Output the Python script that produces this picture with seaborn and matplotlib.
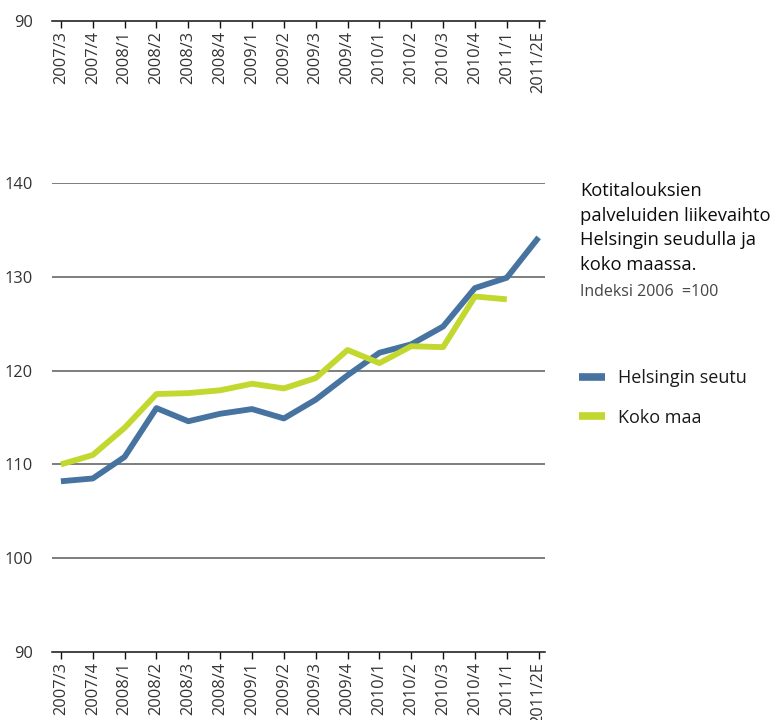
import numpy as np
import pandas as pd
import matplotlib
matplotlib.use("Agg")
import matplotlib.pyplot as plt
import seaborn as sns
from matplotlib.lines import Line2D

periods = ["2007/3", "2007/4", "2008/1", "2008/2", "2008/3", "2008/4",
           "2009/1", "2009/2", "2009/3", "2009/4", "2010/1", "2010/2",
           "2010/3", "2010/4", "2011/1", "2011/2E"]
helsinki = [108.2, 108.5, 110.8, 116.0, 114.6, 115.4, 115.9, 114.9,
            116.9, 119.5, 121.9, 122.8, 124.7, 128.8, 129.9, 134.2]
koko_maa = [110.0, 111.0, 113.9, 117.5, 117.6, 117.9, 118.6, 118.1,
            119.2, 122.2, 120.8, 122.6, 122.5, 127.9, 127.6, np.nan]
series_names = ["Helsingin seutu", "Koko maa"]
y_ticks = [90, 100, 110, 120, 130, 140]

title_lines = "Kotitalouksien\npalveluiden liikevaihto\nHelsingin seudulla ja\nkoko maassa."
subtitle = "Indeksi 2006  =100"

colors = {"Helsingin seutu": "#46739f", "Koko maa": "#c3d82f"}

df = pd.DataFrame({
    "x": list(range(len(periods))) * 2,
    "value": helsinki + koko_maa,
    "series": [series_names[0]] * len(periods) + [series_names[1]] * len(periods),
}).dropna()

sns.set_theme(style="white")
plt.rcParams["font.family"] = ["Open Sans", "DejaVu Sans"]

fig = plt.figure(figsize=(7.71, 7.2), dpi=100)
left, width = 52 / 771, 493 / 771
ax = fig.add_axes([left, 68 / 720, width, 469 / 720])

sns.lineplot(data=df, x="x", y="value", hue="series", palette=colors,
             linewidth=4.2, legend=False, ax=ax, solid_capstyle="butt")

xlim = (-0.28, 15.2)
ax.set_xlim(*xlim)
ax.set_ylim(90, 140)
ax.set_yticks(y_ticks)
ax.set_yticklabels([str(v) for v in y_ticks])
ax.set_xticks(range(len(periods)))
ax.set_xticklabels(periods, rotation=90, va="top")
for v in y_ticks[1:]:
    ax.axhline(v, color="#5a5a5a", lw=1.1, zorder=0)
for s in ["top", "right", "left"]:
    ax.spines[s].set_visible(False)
ax.spines["bottom"].set_color("#111111")
ax.spines["bottom"].set_linewidth(1.1)
ax.tick_params(axis="x", direction="out", length=5, width=1, color="#111111",
               pad=2, labelsize=11.8, labelcolor="#333333", bottom=True)
ax.tick_params(axis="y", length=0, pad=14, labelsize=11.8, labelcolor="#333333")
ax.set_xlabel("")
ax.set_ylabel("")
ax.grid(False)

# duplicate period axis at the top of the page
ax_top = fig.add_axes([left, 1 - 21 / 720, width, 0.0005])
ax_top.set_xlim(*xlim)
ax_top.set_ylim(90, 100)
ax_top.set_yticks([90])
ax_top.set_yticklabels(["90"])
ax_top.set_xticks(range(len(periods)))
ax_top.set_xticklabels(periods, rotation=90, va="top")
for s in ["top", "right", "left"]:
    ax_top.spines[s].set_visible(False)
ax_top.spines["bottom"].set_color("#111111")
ax_top.spines["bottom"].set_linewidth(1.1)
ax_top.tick_params(axis="x", direction="out", length=5, width=1, color="#111111",
                   pad=2, labelsize=11.8, labelcolor="#333333", bottom=True)
ax_top.tick_params(axis="y", length=0, pad=14, labelsize=11.8, labelcolor="#333333")
ax_top.patch.set_alpha(0)
ax_top.grid(False)

fig.text(580 / 771, 1 - 182 / 720, title_lines, ha="left", va="top",
         fontsize=13.2, color="#0d0d0d", fontweight="normal", linespacing=1.47)
fig.text(580 / 771, 1 - 292 / 720, subtitle, ha="left", va="center",
         fontsize=11.5, color="#444444")

handles = [Line2D([0], [0], color=colors[n], lw=5.5, solid_capstyle="butt")
           for n in series_names]
fig.legend(handles, series_names, loc="upper left",
           bbox_to_anchor=(579 / 771, 1 - 369 / 720), frameon=False,
           fontsize=13, handlelength=1.45, handletextpad=0.7,
           labelspacing=1.2, borderpad=0, borderaxespad=0,
           labelcolor="#1a1a1a")

fig.savefig("out.png", dpi=100)
